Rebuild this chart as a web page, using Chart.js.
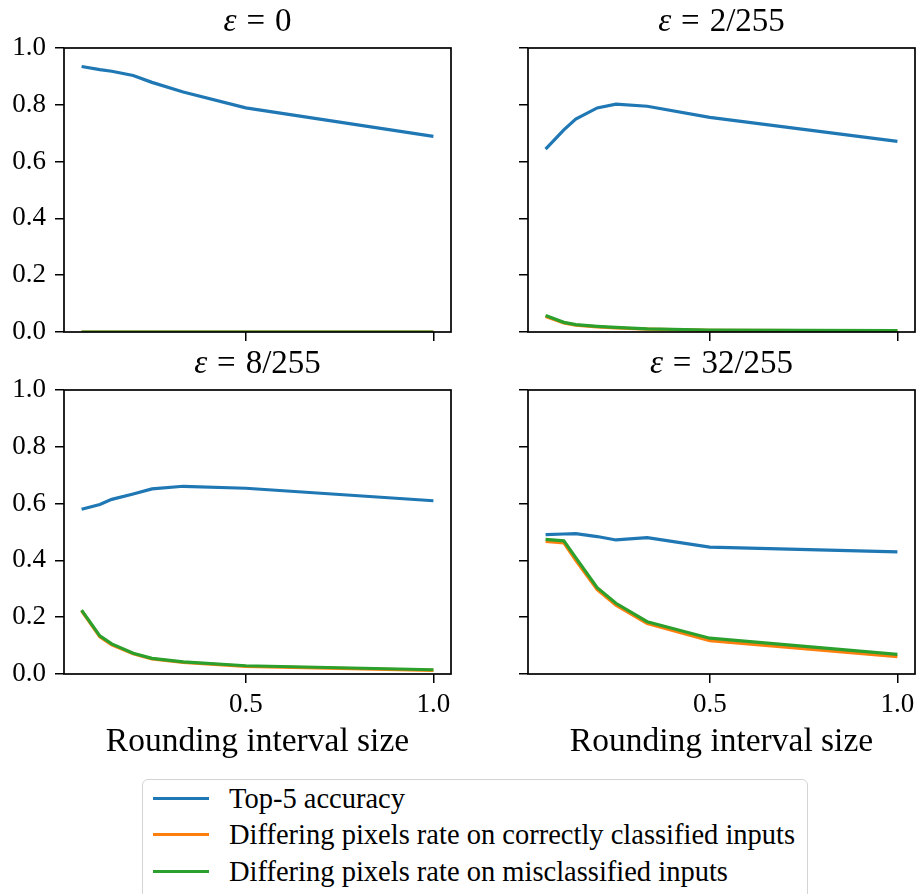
<!DOCTYPE html>
<html>
<head>
<meta charset="utf-8">
<script src="https://cdn.jsdelivr.net/npm/chart.js@4.4.1/dist/chart.umd.min.js"></script>
<style>
    body { margin: 0; background: #fff; }
    #fig { position: relative; width: 917px; height: 894px; overflow: hidden; font-family: "Liberation Serif", serif; color: #000; }
    #fig canvas { position: absolute; }
    .panel-title { position: absolute; width: 387px; text-align: center; font-size: 33px; line-height: 33px; white-space: nowrap; }
    .panel-title .eq { margin: 0 0.3em; }
    .legend { position: absolute; left: 142px; top: 779px; width: 664px; height: 140px; border: 1.5px solid #d4d4d4; border-radius: 6px; background: #fff; }
    .legend-row { position: absolute; left: 10px; height: 30px; font-size: 28.5px; line-height: 30px; white-space: nowrap; }
    .legend-row span.swatch { position: absolute; left: 0; top: 13px; width: 56px; height: 3px; }
    .legend-row span.label { position: absolute; left: 76px; top: 0; }
</style>
</head>
<body>
<div id="fig"></div>
<script>
// Rounding interval sizes (x axis)
const intervalSizes = [1/16, 1/9, 1/7, 1/5, 1/4, 1/3, 1/2, 1];
const xTickValues = [0.5, 1.0];

// eps = 0
const top5Eps0 = [0.935, 0.924, 0.918, 0.903, 0.879, 0.845, 0.789, 0.689];
const correctEps0 = [0, 0, 0, 0, 0, 0, 0, 0];
const misEps0 = [0, 0, 0, 0, 0, 0, 0, 0];

// eps = 2/255
const top5Eps2 = [0.644, 0.712, 0.750, 0.789, 0.802, 0.795, 0.756, 0.671];
const correctEps2 = [0.055, 0.032, 0.024, 0.018, 0.014, 0.010, 0.006, 0.004];
const misEps2 = [0.058, 0.034, 0.026, 0.020, 0.016, 0.011, 0.007, 0.005];

// eps = 8/255
const top5Eps8 = [0.580, 0.597, 0.615, 0.634, 0.652, 0.661, 0.654, 0.610];
const correctEps8 = [0.222, 0.131, 0.103, 0.071, 0.053, 0.041, 0.027, 0.013];
const misEps8 = [0.225, 0.134, 0.106, 0.073, 0.055, 0.043, 0.029, 0.015];

// eps = 32/255
const top5Eps32 = [0.491, 0.493, 0.494, 0.484, 0.472, 0.480, 0.447, 0.430];
const correctEps32 = [0.467, 0.462, 0.400, 0.297, 0.242, 0.178, 0.117, 0.061];
const misEps32 = [0.474, 0.469, 0.410, 0.304, 0.249, 0.184, 0.126, 0.069];

const seriesNames = [
    'Top-5 accuracy',
    'Differing pixels rate on correctly classified inputs',
    'Differing pixels rate on misclassified inputs'
];
const seriesColors = ['#1f77b4', '#ff7f0e', '#2ca02c'];

const panels = [
    { eps: '0',      left: 64,  top: 48,  yLabels: true,  xLabels: false, data: [top5Eps0, correctEps0, misEps0] },
    { eps: '2/255',  left: 528, top: 48,  yLabels: false, xLabels: false, data: [top5Eps2, correctEps2, misEps2] },
    { eps: '8/255',  left: 64,  top: 390, yLabels: true,  xLabels: true,  data: [top5Eps8, correctEps8, misEps8] },
    { eps: '32/255', left: 528, top: 390, yLabels: false, xLabels: true,  data: [top5Eps32, correctEps32, misEps32] }
];

const PLOT_W = 387, PLOT_H = 284, Y_AXIS_W = 64, PAD_TOP = 14;
const serif = '"Liberation Serif", serif';

// box around the plot area, like matplotlib spines
const framePlugin = {
    id: 'frame',
    afterDatasetsDraw(chart) {
        const a = chart.chartArea, ctx = chart.ctx;
        ctx.save();
        ctx.strokeStyle = '#000';
        ctx.lineWidth = 1.7;
        ctx.strokeRect(a.left, a.top, a.right - a.left, a.bottom - a.top);
        ctx.restore();
    }
};

const fig = document.getElementById('fig');

function drawPanel(p) {
    const xAxisH = p.xLabels ? 88 : 12;
    const rightPad = p.left === 64 ? 9 : 2;

    const canvas = document.createElement('canvas');
    canvas.width = Y_AXIS_W + PLOT_W + rightPad;
    canvas.height = PAD_TOP + PLOT_H + xAxisH;
    canvas.style.left = (p.left - Y_AXIS_W) + 'px';
    canvas.style.top = (p.top - PAD_TOP) + 'px';
    fig.appendChild(canvas);

    const title = document.createElement('div');
    title.className = 'panel-title';
    title.style.left = p.left + 'px';
    title.style.top = (p.top - 44) + 'px';
    title.innerHTML = '<i>ε</i><span class="eq">=</span>' + p.eps;
    fig.appendChild(title);

    new Chart(canvas, {
        type: 'line',
        data: {
            datasets: p.data.map((vals, i) => ({
                label: seriesNames[i],
                data: intervalSizes.map((x, j) => ({ x: x, y: vals[j] })),
                borderColor: seriesColors[i],
                borderWidth: 3.2,
                pointRadius: 0,
                tension: 0,
                order: 3 - i
            }))
        },
        options: {
            responsive: false,
            animation: false,
            devicePixelRatio: 1,
            layout: { padding: { top: PAD_TOP, right: rightPad, bottom: 0, left: 0 } },
            plugins: { legend: { display: false }, tooltip: { enabled: false } },
            scales: {
                x: {
                    type: 'linear',
                    min: 1/16 - 0.046875,
                    max: 1 + 0.046875,
                    afterBuildTicks: axis => { axis.ticks = xTickValues.map(v => ({ value: v })); },
                    afterFit: s => { s.height = xAxisH; s.paddingLeft = 0; s.paddingRight = 0; },
                    border: { display: false },
                    grid: { drawOnChartArea: false, drawTicks: true, tickLength: 9, color: '#000', lineWidth: 1.5 },
                    ticks: {
                        display: p.xLabels,
                        padding: 6,
                        color: '#000',
                        font: { family: serif, size: 27 },
                        maxRotation: 0,
                        callback: v => v.toFixed(1)
                    },
                    title: {
                        display: p.xLabels,
                        text: 'Rounding interval size',
                        color: '#000',
                        font: { family: serif, size: 33.5 },
                        padding: { top: 0, bottom: 0 }
                    }
                },
                y: {
                    min: 0,
                    max: 1,
                    afterFit: s => { s.width = Y_AXIS_W; s.paddingTop = 0; s.paddingBottom = 0; },
                    border: { display: false },
                    grid: { drawOnChartArea: false, drawTicks: true, tickLength: 9, color: '#000', lineWidth: 1.5 },
                    ticks: {
                        display: p.yLabels,
                        stepSize: 0.2,
                        padding: 9,
                        color: '#000',
                        font: { family: serif, size: 27 },
                        callback: v => v.toFixed(1)
                    }
                }
            }
        },
        plugins: [framePlugin]
    });
}

// shared legend under the panels
function drawLegend() {
    const legend = document.createElement('div');
    legend.className = 'legend';
    const rowTops = [4, 40, 77];
    seriesNames.forEach((name, i) => {
        const row = document.createElement('div');
        row.className = 'legend-row';
        row.style.top = rowTops[i] + 'px';
        row.innerHTML = '<span class="swatch" style="background:' + seriesColors[i] + '"></span><span class="label">' + name + '</span>';
        legend.appendChild(row);
    });
    fig.appendChild(legend);
}

document.fonts.load('27px "Liberation Serif"').then(() => {
    panels.forEach(drawPanel);
    drawLegend();
});
</script>
</body>
</html>
